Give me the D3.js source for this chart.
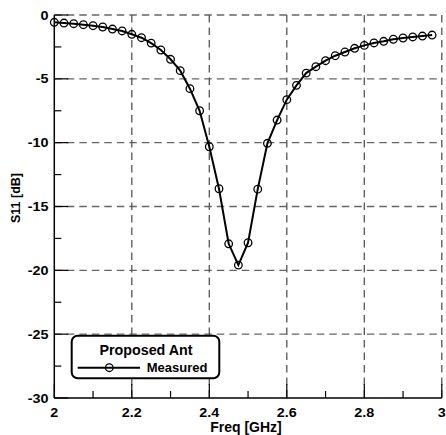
<!DOCTYPE html>
<html><head><meta charset="utf-8">
<script src="https://cdn.jsdelivr.net/npm/d3@7"></script>
<style>
html,body{margin:0;padding:0;background:#fff;}
text{font-family:"Liberation Sans",Arial,sans-serif;font-weight:bold;}
</style></head>
<body><svg id="chart" width="446" height="435"></svg>
<script>
const freq = d3.range(40).map(i => +(2 + i * 0.025).toFixed(3));
const s11 = [-0.57,-0.63,-0.68,-0.76,-0.84,-0.94,-1.10,-1.25,-1.51,-1.78,
             -2.20,-2.74,-3.47,-4.36,-5.77,-7.50,-10.32,-13.61,-17.92,-19.59,
             -17.84,-13.64,-10.05,-8.23,-6.63,-5.51,-4.55,-4.05,-3.58,-3.19,
             -2.90,-2.61,-2.38,-2.19,-2.06,-1.90,-1.80,-1.72,-1.65,-1.57];
const xTicks = [2,2.2,2.4,2.6,2.8,3];
const xTickLabels = ["2","2.2","2.4","2.6","2.8","3"];
const xMinor = [2.1,2.3,2.5,2.7,2.9];
const yTicks = [0,-5,-10,-15,-20,-25,-30];
const yTickLabels = ["0","-5","-10","-15","-20","-25","-30"];
const yMinor = [-2.5,-7.5,-12.5,-17.5,-22.5,-27.5];
const legendTitle = "Proposed Ant";
const seriesName = "Measured";
const xTitle = "Freq [GHz]";
const yTitle = "S11 [dB]";

const svg = d3.select("#chart");
const L = 54.3, R = 441.8, T = 15, B = 398;
const x = d3.scaleLinear().domain([2,3]).range([L,R]);
const y = d3.scaleLinear().domain([0,-30]).range([T,B]);

// grid
const g = svg.append("g");
g.selectAll(".hg").data(yTicks.filter(v=>v!==-30)).join("line")
  .attr("x1",L).attr("x2",R).attr("y1",d=>y(d)).attr("y2",d=>y(d))
  .attr("stroke","#666").attr("stroke-width",1.4).attr("stroke-dasharray","7.5,5");
g.selectAll(".vg").data(xTicks.filter(v=>v!==2)).join("line")
  .attr("y1",T).attr("y2",B).attr("x1",d=>x(d)).attr("x2",d=>x(d))
  .attr("stroke","#555").attr("stroke-width",1.3).attr("stroke-dasharray","7.5,5");

// axes lines
svg.append("line").attr("x1",L).attr("x2",L).attr("y1",T).attr("y2",B).attr("stroke","#000").attr("stroke-width",1.5);
svg.append("line").attr("x1",L).attr("x2",R).attr("y1",B).attr("y2",B).attr("stroke","#000").attr("stroke-width",1.5);

// ticks
svg.selectAll(".ymaj").data(yTicks).join("line").attr("x1",L).attr("x2",L+14)
  .attr("y1",d=>y(d)).attr("y2",d=>y(d)).attr("stroke","#000").attr("stroke-width",1.2);
svg.selectAll(".ymin").data(yMinor).join("line").attr("x1",L).attr("x2",L+7)
  .attr("y1",d=>y(d)).attr("y2",d=>y(d)).attr("stroke","#000").attr("stroke-width",1.2);
svg.selectAll(".xmaj").data(xTicks).join("line").attr("y1",B).attr("y2",B-14)
  .attr("x1",d=>x(d)).attr("x2",d=>x(d)).attr("stroke","#000").attr("stroke-width",1.2);
svg.selectAll(".xmin").data(xMinor).join("line").attr("y1",B).attr("y2",B-7)
  .attr("x1",d=>x(d)).attr("x2",d=>x(d)).attr("stroke","#000").attr("stroke-width",1.2);

// tick labels (slightly widened glyphs as in reference)
svg.selectAll(".yl").data(yTicks).join("text")
  .attr("transform",d=>`translate(48.5,${y(d)+4.5}) scale(1.15,1)`)
  .attr("text-anchor","end").attr("font-size",12.5).text((d,i)=>yTickLabels[i]);
svg.selectAll(".xl").data(xTicks).join("text")
  .attr("transform",d=>`translate(${x(d)},417) scale(1.15,1)`)
  .attr("text-anchor","middle").attr("font-size",12.5).text((d,i)=>xTickLabels[i]);

// titles
svg.append("text").attr("x",246).attr("y",431.5).attr("text-anchor","middle").attr("font-size",14).text(xTitle);
svg.append("text").attr("transform","translate(20,198) rotate(-90)").attr("text-anchor","middle").attr("font-size",12.5).text(yTitle);

// data
const data = freq.map((f,i)=>({f, v:s11[i]}));
svg.append("path").datum(data)
  .attr("d", d3.line().x(d=>x(d.f)).y(d=>y(d.v)))
  .attr("fill","none").attr("stroke","#000").attr("stroke-width",2);
svg.selectAll(".pt").data(data).join("circle")
  .attr("cx",d=>x(d.f)).attr("cy",d=>y(d.v)).attr("r",3.8)
  .attr("fill","none").attr("stroke","#000").attr("stroke-width",1.3);

// legend
const lg = svg.append("g");
lg.append("rect").attr("x",71.7).attr("y",335.7).attr("width",147.6).attr("height",42.6)
  .attr("rx",6).attr("fill","#fff").attr("stroke","#000").attr("stroke-width",2);
lg.append("text").attr("x",146).attr("y",355).attr("text-anchor","middle").attr("font-size",14.3).text(legendTitle);
lg.append("line").attr("x1",77.7).attr("x2",140).attr("y1",367.7).attr("y2",367.7).attr("stroke","#000").attr("stroke-width",2);
lg.append("circle").attr("cx",109.3).attr("cy",367.7).attr("r",3.8).attr("fill","none").attr("stroke","#000").attr("stroke-width",1.3);
lg.append("text").attr("x",146.7).attr("y",372.3).attr("font-size",13).text(seriesName);
</script></body></html>
